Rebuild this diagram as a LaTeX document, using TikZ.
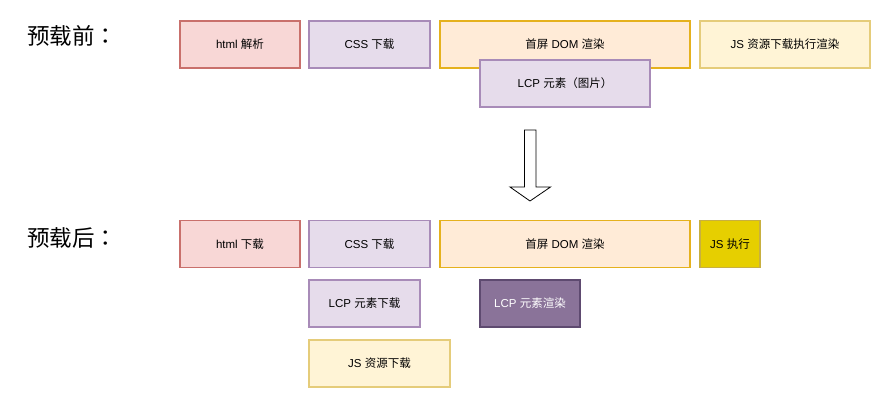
\documentclass[tikz,border=0pt]{standalone}
\usepackage{fontspec}
\setmainfont{Liberation Sans}
\newfontfamily\cjk{Noto Sans CJK SC}
\newfontfamily\cjktc{Noto Sans CJK TC}
\newcommand{\zh}[1]{{\cjk #1}}
\definecolor{redF}{HTML}{F8D7D6}
\definecolor{redD}{HTML}{C9706C}
\definecolor{purF}{HTML}{E6DCEB}
\definecolor{purD}{HTML}{A88BB8}
\definecolor{orgF}{HTML}{FFEBD7}
\definecolor{orgD}{HTML}{E5B11E}
\definecolor{yelF}{HTML}{FFF4D6}
\definecolor{yelD}{HTML}{E5CC7A}
\definecolor{jsF}{HTML}{E6CF00}
\definecolor{jsD}{HTML}{C8B040}
\definecolor{lcpF}{HTML}{8A7399}
\definecolor{lcpD}{HTML}{5E4A70}
\tikzset{
  box/.style={draw, line width=1.4pt, inner sep=0pt, font=\fontsize{11.5}{13}\selectfont, text=black},
  red/.style={box, fill=redF, draw=redD},
  pur/.style={box, fill=purF, draw=purD},
  org/.style={box, fill=orgF, draw=orgD},
  yel/.style={box, fill=yelF, draw=yelD},
  jsx/.style={box, fill=jsF, draw=jsD},
  lcp/.style={box, fill=lcpF, draw=lcpD, text=white},
  head/.style={inner sep=0pt, font=\fontsize{22.5}{26}\selectfont\cjk, anchor=west},
}
\begin{document}
\begin{tikzpicture}[x=1pt,y=-1pt]
\useasboundingbox (0,0) rectangle (892,408);
% headings
\node[head] (h1) at (27,36) {预载前{\cjktc ：}};
\node[head] (h2) at (27,238) {预载后{\cjktc ：}};
% row 1
\node[red, minimum width=120pt, minimum height=47pt] (a1) at (240,44.5) {html \zh{解析}};
\node[pur, minimum width=121pt, minimum height=47pt] (b1) at (369.5,44.5) {CSS \zh{下载}};
\node[org, minimum width=250pt, minimum height=47pt] (c1) at (565,44.5) {\zh{首屏} DOM \zh{渲染}};
\node[yel, minimum width=170pt, minimum height=47pt] (d1) at (785,44.5) {JS \zh{资源下载执行渲染}};
\node[pur, minimum width=170pt, minimum height=47pt] (e1) at (565,83.5) {LCP \zh{元素（图片）}};
% block arrow
\draw[line width=0.8pt, fill=white] (524.5,130) -- (536,130) -- (536,187) -- (550.5,187) -- (530,201) -- (510,187) -- (524.5,187) -- cycle;
% row 2
\node[red, minimum width=120pt, minimum height=47pt] (a2) at (240,244) {html \zh{下载}};
\node[pur, minimum width=121pt, minimum height=47pt] (b2) at (369.5,244) {CSS \zh{下载}};
\node[org, minimum width=250pt, minimum height=47pt] (c2) at (565,244) {\zh{首屏} DOM \zh{渲染}};
\node[jsx, minimum width=60pt, minimum height=47pt] (d2) at (730,244) {JS \zh{执行}};
\node[pur, minimum width=111pt, minimum height=47pt] (e2) at (364.5,303.5) {LCP \zh{元素下载}};
\node[lcp, minimum width=100pt, minimum height=47pt] (f2) at (530,303.5) {LCP \zh{元素渲染}};
\node[yel, minimum width=141pt, minimum height=47pt] (g2) at (379.5,363.5) {JS \zh{资源下载}};
\end{tikzpicture}
\end{document}
